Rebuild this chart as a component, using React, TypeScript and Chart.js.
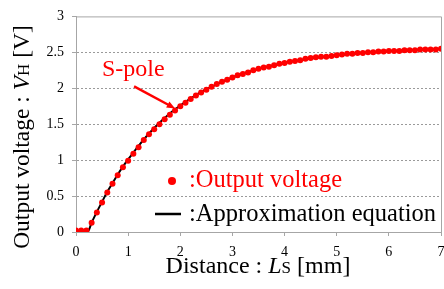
import React, { useEffect, useRef } from "react";
import { Chart, registerables } from "chart.js";

Chart.register(...registerables);

// Measured output voltage (red points), every 0.1 mm
const distanceMm = [
  0.0, 0.1, 0.2, 0.3, 0.4, 0.5, 0.6, 0.7, 0.8, 0.9,
  1.0, 1.1, 1.2, 1.3, 1.4, 1.5, 1.6, 1.7, 1.8, 1.9,
  2.0, 2.1, 2.2, 2.3, 2.4, 2.5, 2.6, 2.7, 2.8, 2.9,
  3.0, 3.1, 3.2, 3.3, 3.4, 3.5, 3.6, 3.7, 3.8, 3.9,
  4.0, 4.1, 4.2, 4.3, 4.4, 4.5, 4.6, 4.7, 4.8, 4.9,
  5.0, 5.1, 5.2, 5.3, 5.4, 5.5, 5.6, 5.7, 5.8, 5.9,
  6.0, 6.1, 6.2, 6.3, 6.4, 6.5, 6.6, 6.7, 6.8, 6.9,
  7.0,
];
const outputVoltage = [
  0.02, 0.02, 0.02, 0.13, 0.27, 0.41, 0.55, 0.67, 0.79, 0.9,
  0.99, 1.09, 1.18, 1.28, 1.36, 1.43, 1.5, 1.57, 1.63, 1.69,
  1.75, 1.8, 1.85, 1.9, 1.94, 1.98, 2.02, 2.06, 2.09, 2.12,
  2.15, 2.18, 2.2, 2.22, 2.25, 2.27, 2.29, 2.3, 2.32, 2.34,
  2.35, 2.37, 2.38, 2.39, 2.41, 2.42, 2.43, 2.44, 2.44, 2.45,
  2.46, 2.47, 2.48, 2.48, 2.49, 2.49, 2.5, 2.5, 2.51, 2.51,
  2.52, 2.52, 2.52, 2.53, 2.53, 2.53, 2.54, 2.54, 2.54, 2.54,
  2.55,
];

// Approximation equation (black line)
const approxDistanceMm = [
  0, 0.22, 0.3, 0.4, 0.5, 0.6, 0.7, 0.8, 0.9, 1.0, 1.2, 1.4, 1.6, 1.8,
  2.0, 2.2, 2.4, 2.6, 2.8, 3.0, 3.25, 3.5, 3.75, 4.0, 4.5, 5.0, 5.5, 6.0,
  6.5, 7.0,
];
const approxVoltage = [
  0, 0, 0.13, 0.28, 0.42, 0.56, 0.68, 0.8, 0.91, 1.01, 1.2, 1.37, 1.52, 1.65,
  1.76, 1.86, 1.95, 2.02, 2.09, 2.15, 2.215, 2.27, 2.315, 2.355, 2.415, 2.46,
  2.495, 2.52, 2.535, 2.55,
];

const xTickValues = [0, 1, 2, 3, 4, 5, 6, 7];
const xTickLabels = ["0", "1", "2", "3", "4", "5", "6", "7"];
const yTickValues = [0, 0.5, 1, 1.5, 2, 2.5, 3];
const yTickLabels = ["0", "0.5", "1", "1.5", "2", "2.5", "3"];

const legendLabels = [":Output voltage", ":Approximation equation"];
const annotationText = "S-pole";
const annotationTarget = { x: 1.9, y: 1.72 };

const SERIF = '"Liberation Serif", serif';
const RED = "#ff0000";
const GRID = "#a6a6a6";

type Part = { text: string; font: string; dy?: number };

function drawParts(ctx: CanvasRenderingContext2D, parts: Part[], x: number, y: number, align: "left" | "center") {
  let total = 0;
  for (const p of parts) {
    ctx.font = p.font;
    total += ctx.measureText(p.text).width;
  }
  let cx = align === "center" ? x - total / 2 : x;
  ctx.textAlign = "left";
  ctx.textBaseline = "alphabetic";
  for (const p of parts) {
    ctx.font = p.font;
    ctx.fillText(p.text, cx, y + (p.dy || 0));
    cx += ctx.measureText(p.text).width;
  }
}

export default function App() {
  const ref = useRef<HTMLCanvasElement>(null);

  useEffect(() => {
    if (!ref.current) return;

    const overlay = {
      id: "overlay",
      afterDraw(chart: any) {
        const ctx: CanvasRenderingContext2D = chart.ctx;
        const { left, right, top, bottom } = chart.chartArea;
        const xs = chart.scales.x;
        const ys = chart.scales.y;
        ctx.save();

        // frame top/right
        ctx.strokeStyle = GRID;
        ctx.lineWidth = 1;
        ctx.beginPath();
        ctx.moveTo(left, top + 0.5);
        ctx.lineTo(right + 0.5, top + 0.5);
        ctx.lineTo(right + 0.5, bottom);
        ctx.stroke();

        // annotation arrow
        const tx = xs.getPixelForValue(annotationTarget.x);
        const ty = ys.getPixelForValue(annotationTarget.y);
        const sx = tx - 41;
        const sy = ty - 22;
        const ang = Math.atan2(ty - sy, tx - sx);
        const head = 9;
        ctx.strokeStyle = RED;
        ctx.fillStyle = RED;
        ctx.lineWidth = 2.5;
        ctx.beginPath();
        ctx.moveTo(sx, sy);
        ctx.lineTo(tx - Math.cos(ang) * head * 0.8, ty - Math.sin(ang) * head * 0.8);
        ctx.stroke();
        ctx.beginPath();
        ctx.moveTo(tx, ty);
        ctx.lineTo(tx - head * Math.cos(ang - 0.4), ty - head * Math.sin(ang - 0.4));
        ctx.lineTo(tx - head * Math.cos(ang + 0.4), ty - head * Math.sin(ang + 0.4));
        ctx.closePath();
        ctx.fill();
        drawParts(ctx, [{ text: annotationText, font: `24px ${SERIF}` }], 102, 76, "left");

        // legend
        ctx.fillStyle = RED;
        ctx.beginPath();
        ctx.arc(172, 181, 4, 0, Math.PI * 2);
        ctx.fill();
        drawParts(ctx, [{ text: legendLabels[0], font: `24.5px ${SERIF}` }], 189, 187, "left");
        ctx.strokeStyle = "#000";
        ctx.lineWidth = 2.5;
        ctx.beginPath();
        ctx.moveTo(155, 214);
        ctx.lineTo(181, 214);
        ctx.stroke();
        ctx.fillStyle = "#000";
        drawParts(ctx, [{ text: legendLabels[1], font: `24.5px ${SERIF}` }], 189, 221, "left");

        // x title
        ctx.fillStyle = "#000";
        drawParts(
          ctx,
          [
            { text: "Distance : ", font: `24px ${SERIF}` },
            { text: "L", font: `italic 24px ${SERIF}` },
            { text: "S", font: `17px ${SERIF}` },
            { text: " [mm]", font: `24px ${SERIF}` },
          ],
          258,
          273,
          "center"
        );

        // y title
        ctx.translate(29, 137);
        ctx.rotate(-Math.PI / 2);
        drawParts(
          ctx,
          [
            { text: "Output voltage : ", font: `23.5px ${SERIF}` },
            { text: "V", font: `italic 23.5px ${SERIF}` },
            { text: "H", font: `17px ${SERIF}` },
            { text: " [V]", font: `23.5px ${SERIF}` },
          ],
          0,
          0,
          "center"
        );
        ctx.restore();
      },
    };

    const chart = new Chart(ref.current, {
      type: "scatter",
      data: {
        datasets: [
          {
            label: "Output voltage",
            data: distanceMm.map((x, i) => ({ x, y: outputVoltage[i] })),
            showLine: false,
            pointRadius: 3,
            pointBackgroundColor: RED,
            pointBorderWidth: 0,
            order: 0,
          },
          {
            label: "Approximation equation",
            data: approxDistanceMm.map((x, i) => ({ x, y: approxVoltage[i] })),
            showLine: true,
            borderColor: "#000",
            borderWidth: 2,
            pointRadius: 0,
            cubicInterpolationMode: "monotone",
            order: 1,
          },
        ],
      },
      options: {
        animation: false,
        responsive: false,
        devicePixelRatio: 1,
        layout: { padding: { left: 0, top: 15, right: 19, bottom: 0 } },
        plugins: { legend: { display: false }, tooltip: { enabled: false } },
        scales: {
          x: {
            type: "linear",
            min: 0,
            max: 7,
            afterFit(scale: any) {
              scale.height = 57;
            },
            afterBuildTicks(scale: any) {
              scale.ticks = xTickValues.map((v) => ({ value: v }));
            },
            ticks: {
              padding: 8,
              color: "#000",
              font: { family: SERIF, size: 14 },
              callback: (v: any) => xTickLabels[xTickValues.indexOf(Number(v))] ?? "",
            },
            grid: {
              drawOnChartArea: false,
              drawTicks: true,
              tickLength: 4,
              tickColor: GRID,
            },
            border: { display: true, color: GRID, width: 1 },
          },
          y: {
            type: "linear",
            min: 0,
            max: 3,
            afterFit(scale: any) {
              scale.width = 76;
            },
            afterBuildTicks(scale: any) {
              scale.ticks = yTickValues.map((v) => ({ value: v }));
            },
            ticks: {
              padding: 8,
              color: "#000",
              font: { family: SERIF, size: 14 },
              callback: (v: any) => yTickLabels[yTickValues.indexOf(Number(v))] ?? "",
            },
            grid: {
              color: (c: any) => (c.tick && (c.tick.value === 0 || c.tick.value === 3) ? "rgba(0,0,0,0)" : "#9a9a9a"),
              lineWidth: 1,
              drawTicks: true,
              tickLength: 4,
              tickColor: GRID,
            },
            border: { display: true, color: GRID, width: 1, dash: [2, 2] },
          },
        },
      },
      plugins: [overlay],
    } as any);

    return () => chart.destroy();
  }, []);

  return (
    <div
      style={{
        position: "fixed",
        left: 0,
        top: 0,
        width: 444,
        height: 289,
        overflow: "hidden",
        background: "#fff",
      }}
    >
      <canvas ref={ref} width={460} height={289} style={{ display: "block", width: 460, height: 289 }} />
    </div>
  );
}
